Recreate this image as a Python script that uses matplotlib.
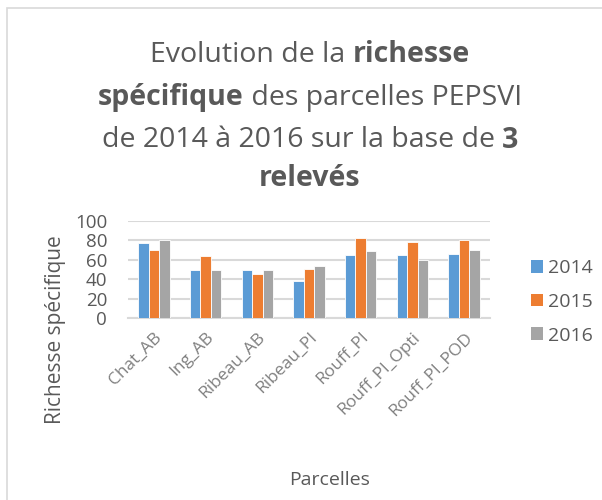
import matplotlib
matplotlib.use("Agg")
import matplotlib.pyplot as plt
import numpy as np
from matplotlib.patches import Rectangle, Patch

categories = ["Chat_AB", "Ing_AB", "Ribeau_AB", "Ribeau_PI", "Rouff_PI", "Rouff_PI_Opti", "Rouff_PI_POD"]
series_names = ["2014", "2015", "2016"]
v2014 = [77, 49, 49, 38, 65, 65, 66]
v2015 = [70, 64, 45, 51, 82, 78, 80]
v2016 = [80, 50, 49, 54, 69, 60, 70]
yticks = [0, 20, 40, 60, 80, 100]
colors = ["#5B9BD5", "#ED7D31", "#A5A5A5"]

plt.rcParams['font.family'] = ['Open Sans', 'DejaVu Sans']
W, H = 602, 500
fig = plt.figure(figsize=(W / 100, H / 100), dpi=100)

# chart border
fig.add_artist(Rectangle((7 / W, -0.05), 1.1, 1 - 8 / H + 0.05, transform=fig.transFigure,
                         fill=False, edgecolor="#d9d9d9", linewidth=1.2))

ax = fig.add_axes([128 / W, (H - 318) / H, 362 / W, 97 / H])
x = np.arange(len(categories))
bw = 0.203
for i, (vals, c) in enumerate(zip([v2014, v2015, v2016], colors)):
    ax.bar(x + (i - 1) * bw, vals, width=bw, color=c, edgecolor="white", linewidth=0.6,
           label=series_names[i], zorder=3)

ax.set_xlim(-0.5, len(categories) - 0.5)
ax.set_ylim(0, 100)
ax.set_yticks(yticks)
ax.set_yticklabels([str(t) for t in yticks], fontsize=13.5, color="#595959")
ax.yaxis.grid(True, color="#d9d9d9", linewidth=1.5, zorder=0)
for s in ["top", "right", "left"]:
    ax.spines[s].set_visible(False)
ax.spines["bottom"].set_color("#d9d9d9")
ax.spines["bottom"].set_linewidth(1.5)
ax.tick_params(axis="both", length=0)
ax.tick_params(axis="y", pad=15)
ax.set_xticks(x)
ax.set_xticklabels(categories, rotation=45, ha="right", rotation_mode="anchor",
                   fontsize=12.5, color="#808080")
ax.tick_params(axis="x", pad=8)

fig.text(55 / W, 1 - 330 / H, "Richesse spécifique", rotation=90, ha="center", va="center",
         fontsize=15, color="#595959")
fig.text(330 / W, 1 - 480 / H, "Parcelles", ha="center", va="center", fontsize=14, color="#595959")

handles = [Patch(facecolor=c, edgecolor="none") for c in colors]
fig.legend(handles, series_names, loc="center left", bbox_to_anchor=(513 / W, 1 - 302 / H),
           frameon=False, fontsize=14, labelcolor="#595959", handlelength=0.62, handleheight=0.62,
           handletextpad=0.3, labelspacing=0.8)

# title with mixed bold
title_lines = [
    [("Evolution de la ", False), ("richesse", True)],
    [("spécifique", True), (" des parcelles PEPSVI", False)],
    [("de 2014 à 2016 sur la base de ", False), ("3", True)],
    [("relevés", True)],
]
line_y = [55, 98, 140, 178]
tsize = 20.5
fig.canvas.draw()
renderer = fig.canvas.get_renderer()
cx = 310
for segs, yy in zip(title_lines, line_y):
    widths = []
    for txt, b in segs:
        t = fig.text(0, 0, txt.replace(" ", "\u00a0"), fontsize=tsize,
                     fontweight="bold" if b else "normal")
        widths.append(t.get_window_extent(renderer).width)
        t.remove()
    total = sum(widths)
    xs = cx - total / 2
    for (txt, b), w in zip(segs, widths):
        fig.text(xs / W, 1 - yy / H, txt.replace(" ", "\u00a0"), fontsize=tsize,
                 fontweight="bold" if b else "normal", color="#595959", ha="left", va="center")
        xs += w

fig.savefig("out.png", dpi=100)
